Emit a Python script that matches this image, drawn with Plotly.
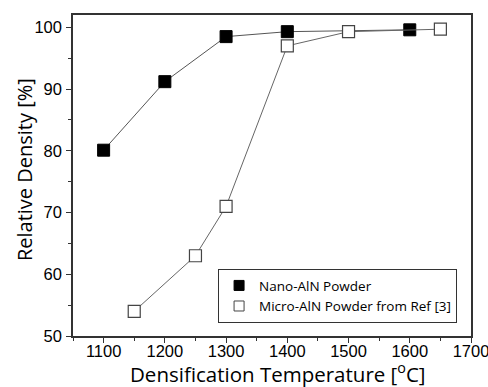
import plotly.graph_objects as go

# Sintering data: relative density versus densification temperature
nano_temp = [1100, 1200, 1300, 1400, 1600]
nano_density = [80.1, 91.2, 98.5, 99.3, 99.6]

micro_temp = [1150, 1250, 1300, 1400, 1500, 1650]
micro_density = [54.0, 63.0, 71.0, 97.0, 99.3, 99.7]

nano_label = "Nano-AlN Powder"
micro_label = "Micro-AlN Powder from Ref [3]"

x_ticks = [1100, 1200, 1300, 1400, 1500, 1600, 1700]
y_ticks = [50, 60, 70, 80, 90, 100]

x_title = "Densification Temperature [<sup>o</sup>C]"
y_title = "Relative Density [%]"

title_font = "Open Sans"
tick_font = "Arial"

fig = go.Figure()

fig.add_trace(go.Scatter(
    x=nano_temp, y=nano_density, mode="lines+markers",
    line=dict(color="#555555", width=1),
    marker=dict(symbol="square", size=12, color="black",
                line=dict(color="black", width=1)),
    showlegend=False,
))
fig.add_trace(go.Scatter(
    x=micro_temp, y=micro_density, mode="lines+markers",
    line=dict(color="#666666", width=1),
    marker=dict(symbol="square", size=12, color="white",
                line=dict(color="#444444", width=1.2)),
    showlegend=False,
))

# Marker-only legend entries
fig.add_trace(go.Scatter(
    x=[None], y=[None], mode="markers", name=nano_label,
    marker=dict(symbol="square", size=10, color="black",
                line=dict(color="black", width=1)),
))
fig.add_trace(go.Scatter(
    x=[None], y=[None], mode="markers", name=micro_label,
    marker=dict(symbol="square", size=10, color="white",
                line=dict(color="#444444", width=1)),
))

axis_common = dict(
    showgrid=False, zeroline=False, automargin=False,
    showline=True, linecolor="#333333", linewidth=1.5, mirror=True,
    ticks="outside", ticklen=5, tickwidth=1, tickcolor="#333333",
    tickfont=dict(family=tick_font, size=16.5, color="black"),
    ticklabeloverflow="allow",
)

fig.update_xaxes(
    range=[1050, 1700], tickvals=x_ticks, ticklabelstandoff=-6,
    minor=dict(dtick=50, tick0=1050, ticks="outside", ticklen=3, tickcolor="#333333"),
    **axis_common,
)
fig.update_yaxes(
    range=[50, 102], tickvals=y_ticks, ticklabelstandoff=1,
    minor=dict(dtick=5, tick0=50, ticks="outside", ticklen=3, tickcolor="#333333"),
    **axis_common,
)

# Axis titles placed as paper-anchored text
fig.add_annotation(
    text=x_title, xref="paper", yref="paper", x=0.516, y=-0.1153,
    xanchor="center", yanchor="middle", showarrow=False,
    font=dict(family=title_font, size=20.5, color="black"),
)
fig.add_annotation(
    text=y_title, xref="paper", yref="paper", x=-0.123, y=0.517,
    xanchor="center", yanchor="middle", textangle=-90, showarrow=False,
    font=dict(family=title_font, size=20, color="black"),
)

fig.update_layout(
    width=488, height=387,
    margin=dict(l=73, r=17, t=15, b=51),
    paper_bgcolor="white", plot_bgcolor="white",
    legend=dict(
        x=0.965, y=0.04, xanchor="right", yanchor="bottom",
        bgcolor="white", bordercolor="#333333", borderwidth=1,
        font=dict(family=title_font, size=13.5, color="black"),
        tracegroupgap=0, itemwidth=30,
    ),
)

fig.write_html("out.html")
